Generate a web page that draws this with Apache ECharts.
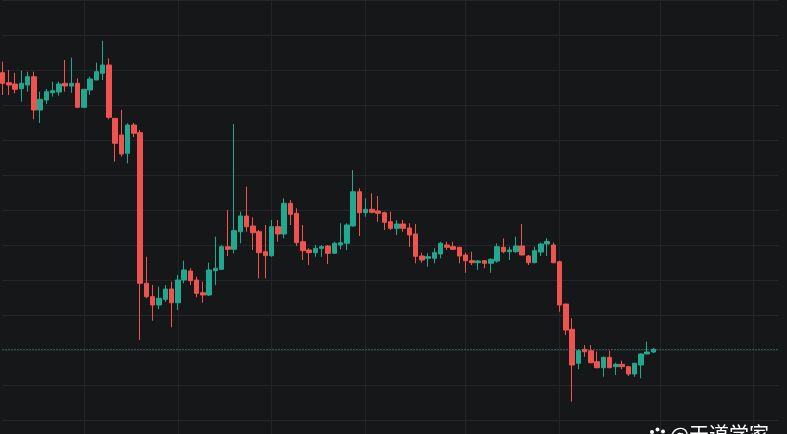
<!DOCTYPE html>
<html>
<head>
<meta charset="utf-8">
<script src="https://cdn.jsdelivr.net/npm/echarts@6/dist/echarts.min.js"></script>
<style>
html,body{margin:0;padding:0;background:#161719;}
#chart{width:787px;height:434px;}
</style>
</head>
<body>
<div id="chart"></div>
<script>
// OHLC candles: [open, close, low, high]
const candles = [
[347.3,336.7,325,358.3],[337.3,335,325,350],[336,330.7,326.7,347.3],[331.3,336.7,318.3,349.3],
[335,343.3,328.3,348.3],[343.3,310,300.7,348.3],[310,320.7,297,328.3],[320,328.3,316,331],
[327.3,329.3,323.3,338.3],[328,336,324.3,338.3],[336.7,334,328.3,360],[334,336.7,327.3,362.3],
[336.7,312.7,312.7,341.7],[312.7,330.7,312.7,330.7],[330,341,325,343.3],[340,348.3,340,357.3],
[346.7,355,340,379.3],[355,302.7,300.7,361.7],[301.7,276.7,258.3,301.7],[285,266,263.3,310],
[266.7,295,256.7,296.7],[295,286.7,283,297],[287.3,136.7,80,290],[136.7,123.3,121.7,163.3],
[123.3,115,99.3,135],[115,121.7,110.7,133.3],[120.7,131,118.3,135],[131,117.3,92.7,138.3],
[117.3,140,110,145],[140,150,136.7,159.3],[149,139.3,135,151.7],[140,126.7,122.7,143.3],
[127.3,125,117.3,138.3],[125,150,124,157.3],[149.3,151.7,135,183.3],[150.7,173.3,150,175],
[173.3,170.7,164,210],[170.7,189.3,166.7,296],[188.3,204,176.7,208.3],[204,193.3,188.3,233.3],
[194,187.3,170,202.7],[188.3,167.3,141.7,190],[168.3,164.3,141.7,195],[164.3,193.3,163.3,200],
[193.3,186,178.3,200],[186,216.7,181.7,221.7],[216.7,205.7,195,220],[206.7,177.3,174,211.7],
[178.3,169.3,160,195],[170,167.3,155,171.7],[167.3,171.7,163.3,175],[171.7,173.3,163.3,175],
[174,166.7,156,175],[166.7,176.7,166.7,178.3],[175,177.3,170.7,196.7],[176.7,195,170,196.7],
[194,228.3,193.3,250],[228.3,207.3,184,231.7],[207.3,210.7,203.3,221.7],[210.7,207.7,206.7,226.7],
[209,206.7,198.3,224],[207.3,197.7,190,208.3],[198.3,191.7,190,208.3],[191.7,196,185,200],
[196,191.7,188.3,200],[192,185,173,196.7],[186,163.7,156.7,196],[164,160,157.3,167.3],
[161.7,163.3,153.3,166.7],[161.7,167.3,156.7,171.7],[166,176.7,161.7,178.3],[175,172.7,170,178.3],
[173.3,170.7,170,178.3],[172.7,164,156.7,173.3],[165,159.3,147.3,167.3],[159.3,157.3,155,168.3],
[157.3,159,150,160],[159.3,156.7,151.7,160],[156.7,160.7,147.3,161.7],[159,173.3,157.3,176.7],
[172.7,168.3,166.7,181.7],[168.3,170,160,173.3],[168.3,174,167.3,183.3],[174,165,165,196],
[164,157.3,155,165],[157.3,169.3,156.7,173.3],[168,176,164,177.3],[176,178.5,164,181.7],
[175,157.3,156.7,177.5],[158.3,115,108.3,159.3],[116,90,85,116],[90.7,55,18.3,101.7],
[56.7,69.3,50.7,70.7],[70.7,68.3,63.3,75],[69.3,57.3,56.7,75],[58.3,52.3,51.7,68.3],
[52.3,62.7,43.3,63.3],[62.7,52.3,51.7,69.3],[53.3,55.7,45,57.3],[55.7,53.3,50.7,59.3],
[53.3,46,44,54],[46,56.7,43.3,57.3],[55,66,41.7,66.7],[66,68,66,78.3],[68,70.7,67,72]
];
const slotCount = 125;
const categories = [];
for (let i = 0; i < slotCount; i++) categories.push(String(i + 1));
const verticalGridIdx = [13, 28, 43, 58, 74, 89, 105, 120];
const lastClose = candles[candles.length - 1][1];
const watermark = '@天道学家';

const gridColor = '#232529';
const xAxisBase = {
  type: 'category', data: categories, boundaryGap: false,
  axisLine: {show: false}, axisTick: {show: false}, axisLabel: {show: false},
  splitLine: {show: true, interval: (idx) => verticalGridIdx.includes(idx),
    lineStyle: {color: gridColor, width: 1}}
};

const chart = echarts.init(document.getElementById('chart'), null, {renderer: 'canvas'});
chart.setOption({
  backgroundColor: '#161719',
  animation: false,
  grid: [
    {left: 2.5, top: 0, width: 776.2, height: 420, containLabel: false},
    {left: 2.5, top: 420, width: 776.2, height: 14, containLabel: false}
  ],
  xAxis: [
    Object.assign({gridIndex: 0}, xAxisBase),
    Object.assign({gridIndex: 1}, xAxisBase)
  ],
  yAxis: [
    {
      gridIndex: 0, type: 'value', min: 0, max: 420, interval: 35,
      axisLine: {show: false}, axisTick: {show: false}, axisLabel: {show: false},
      splitLine: {show: true, lineStyle: {color: gridColor, width: 1}}
    },
    {
      gridIndex: 1, type: 'value', min: 0, max: 1,
      axisLine: {show: false}, axisTick: {show: false}, axisLabel: {show: false},
      splitLine: {show: false}
    }
  ],
  series: [{
    type: 'candlestick',
    xAxisIndex: 0, yAxisIndex: 0,
    data: candles,
    barWidth: 5,
    itemStyle: {
      color: '#22a88e', color0: '#ef5350',
      borderColor: '#22a88e', borderColor0: '#ef5350', borderWidth: 1
    },
    markLine: {
      silent: true, symbol: 'none', label: {show: false},
      lineStyle: {color: '#2e9a84', type: [1, 2], width: 1},
      data: [{yAxis: lastClose}]
    }
  }],
  graphic: [
    {type: 'circle', shape: {cx: 652, cy: 432, r: 2}, style: {fill: '#fff'}},
    {type: 'circle', shape: {cx: 657.5, cy: 429.5, r: 2}, style: {fill: '#fff'}},
    {type: 'circle', shape: {cx: 663, cy: 431.5, r: 2}, style: {fill: '#fff'}},
    {type: 'circle', shape: {cx: 657.5, cy: 438, r: 4}, style: {fill: '#fff'}},
    {type: 'text', left: 670, top: 424,
      style: {text: watermark, fill: '#ffffff', font: '20px "Noto Sans CJK SC"'}}
  ]
});
</script>
</body>
</html>
